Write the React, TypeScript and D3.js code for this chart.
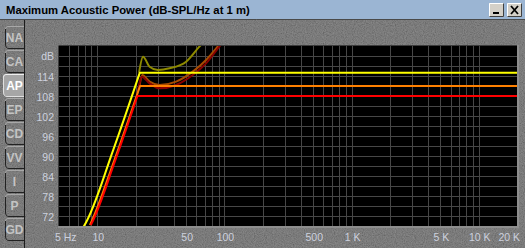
import React from 'react';
import * as d3 from 'd3';

// ---- Data ----
const xTickValues = [5, 10, 50, 100, 500, 1000, 5000, 10000, 20000];
const xTickLabels = ['5 Hz', '10', '50', '100', '500', '1 K', '5 K', '10 K', '20 K'];
const yTickValues = [72, 78, 84, 90, 96, 102, 108, 114];
const yUnitLabel = 'dB';
const tabLabels = ['NA', 'CA', 'AP', 'EP', 'CD', 'VV', 'I', 'P', 'GD'];
const activeTab = 'AP';
const titleText = 'Maximum Acoustic Power (dB-SPL/Hz at 1 m)';

// main limit lines: rising part, then flat level to 20 kHz
const yellowFreq = [7.7, 7.86, 13.4, 21.6];
const yellowDb = [68.5, 69, 92, 115];
const orangeFreq = [8.75, 8.88, 13.55, 21.7];
const orangeDb = [69.3, 69.8, 88.5, 111];
const redFreq = [8.9, 9.04, 13.8, 20.7];
const redDb = [69.3, 69.8, 88.5, 108];

// excursion-type curves
const oliveFreq = [21.3, 22.9, 25.8, 30.0, 37.0, 50.0, 63.5, 72.0];
const oliveDb = [115, 119.8, 116.8, 115.8, 116.3, 118.3, 122.8, 125.0];
const brownFreq = [21.5, 22.6, 25.8, 30.9, 41.7, 56.3, 71.7, 88.4, 96.0];
const brownDb = [111, 114.3, 112.3, 111.3, 112.3, 115.3, 118.8, 122.8, 124.5];
const darkRedFreq = [20.5, 21.5, 22.3, 25.8, 30.9, 41.7, 56.3, 71.7, 91.2, 99.0];
const darkRedDb = [108, 111.8, 113.8, 111.8, 110.3, 111.3, 114.3, 117.8, 122.8, 124.5];

const W = 525;
const H = 248;
const PL = 59, PR = 517, PT = 46, PB = 226;

export default function App() {
  const x = d3.scaleLog().domain([5, 20000]).range([PL, PR]);
  const y = d3.scaleLinear().domain([69, 123]).range([PB, PT]);

  const vGrid: number[] = [];
  [1, 10, 100, 1000, 10000].forEach((d) => {
    for (let m = 1; m <= 9; m++) {
      const f = m * d;
      if (f > 5 && f < 20000) vGrid.push(f);
    }
  });
  const hGrid = d3.range(72, 121, 3);

  const mk = (fs: number[], ds: number[]) => fs.map((f, i) => [f, ds[i]] as [number, number]);
  const smooth = d3
    .line<[number, number]>()
    .x((d) => x(d[0]))
    .y((d) => y(d[1]))
    .curve(d3.curveMonotoneX);
  const limitPath = (fs: number[], ds: number[]) =>
    (smooth(mk(fs, ds)) || '') + `L${x(20000)},${y(ds[ds.length - 1])}`;

  const font = "'Liberation Sans', Arial, sans-serif";
  const labelColor = '#cdd1de';

  return (
    <svg width={W} height={H} style={{ position: 'absolute', left: 0, top: 0, display: 'block' }}>
      <defs>
        <filter id="noise" x="0" y="0" width="100%" height="100%">
          <feTurbulence type="fractalNoise" baseFrequency="0.9" numOctaves="2" seed="4" />
          <feColorMatrix type="matrix" values="1 0 0 0 0  1 0 0 0 0  1 0 0 0 0  0 0 0 0 1" />
        </filter>
        <clipPath id="plotClip">
          <rect x={PL} y={PT} width={PR - PL} height={PB - PT} />
        </clipPath>
      </defs>

      {/* textured background */}
      <rect x={0} y={0} width={W} height={H} fill="#626262" />
      <rect x={0} y={0} width={W} height={H} filter="url(#noise)" opacity={0.28} />

      {/* title bar */}
      <rect x={0} y={0} width={W} height={19} fill="#9bb5d3" />
      <line x1={0} x2={W} y1={19.5} y2={19.5} stroke="#4a4a4a" />
      <text x={6} y={14} fontFamily={font} fontWeight="bold" fontSize={11.3} fill="#000">
        {titleText}
      </text>
      {[
        { bx: 489, label: '_' },
        { bx: 507, label: 'X' },
      ].map((b) => (
        <g key={b.label}>
          <rect x={b.bx} y={3} width={15} height={14} fill="#d4d0c8" />
          <path d={`M${b.bx + 0.5},${16.5} V${3.5} H${b.bx + 14.5}`} stroke="#fff" fill="none" />
          <path d={`M${b.bx + 0.5},${16.5} H${b.bx + 14.5} V${3.5}`} stroke="#404040" fill="none" />
          {b.label === '_' ? (
            <rect x={b.bx + 4} y={12} width={6} height={2} fill="#000" />
          ) : (
            <path
              d={`M${b.bx + 4},${6} L${b.bx + 11},${14} M${b.bx + 11},${6} L${b.bx + 4},${14}`}
              stroke="#000"
              strokeWidth={1.8}
            />
          )}
        </g>
      ))}

      {/* left tab column */}
      <line x1={24.5} x2={24.5} y1={20} y2={H} stroke="#1c1c1c" />
      {tabLabels.map((t, i) => {
        const top = 26 + i * 24;
        const bot = top + 22;
        const active = t === activeTab;
        const lx = active ? 3 : 5;
        return (
          <g key={t}>
            <path
              d={`M24,${top} L${lx + 3},${top} Q${lx},${top} ${lx},${top + 3} L${lx},${bot - 4} Q${lx},${bot} ${lx + 4},${bot} L24,${bot} Z`}
              fill={active ? '#a6a6a6' : 'rgba(0,0,0,0)'}
              stroke="none"
            />
            <path
              d={`M24,${top + 0.5} L${lx + 3},${top + 0.5} Q${lx + 0.5},${top + 0.5} ${lx + 0.5},${top + 3}`}
              stroke={active ? '#f0f0f0' : '#a8a8a8'}
              fill="none"
            />
            <path
              d={`M${lx + 0.5},${top + 3} L${lx + 0.5},${bot - 4} Q${lx + 0.5},${bot + 0.5} ${lx + 4},${bot + 0.5} L24,${bot + 0.5}`}
              stroke={active ? '#e0e0e0' : '#222'}
              fill="none"
            />
            <text
              x={14.5}
              y={top + 16}
              textAnchor="middle"
              fontFamily={font}
              fontWeight="bold"
              fontSize={12}
              fill={active ? '#ffffff' : '#c4c4c4'}
            >
              {t}
            </text>
          </g>
        );
      })}

      {/* plot */}
      <rect x={PL} y={PT} width={PR - PL} height={PB - PT} fill="#000" />
      <g stroke="#474747" strokeWidth={1}>
        {hGrid.map((v) => (
          <line key={'h' + v} x1={PL} x2={PR} y1={Math.round(y(v)) + 0.5} y2={Math.round(y(v)) + 0.5} />
        ))}
        {vGrid.map((f) => (
          <line key={'v' + f} x1={Math.round(x(f)) + 0.5} x2={Math.round(x(f)) + 0.5} y1={PT} y2={PB} />
        ))}
      </g>
      {/* frame */}
      <line x1={PL - 0.5} x2={PR} y1={PT - 0.5} y2={PT - 0.5} stroke="#3c3c3c" />
      <line x1={PL - 0.5} x2={PL - 0.5} y1={PT} y2={PB} stroke="#3c3c3c" />
      <rect x={PR} y={PT - 1} width={2} height={PB - PT + 3} fill="#8e8e8e" />
      <rect x={PL - 1} y={PB} width={PR - PL + 3} height={2} fill="#8e8e8e" />

      <g clipPath="url(#plotClip)" fill="none" strokeLinejoin="round">
        <path d={smooth(mk(oliveFreq, oliveDb)) || ''} stroke="#8e8a00" strokeWidth={2} />
        <path d={smooth(mk(brownFreq, brownDb)) || ''} stroke="#a84a00" strokeWidth={2} />
        <path d={smooth(mk(darkRedFreq, darkRedDb)) || ''} stroke="#8a0000" strokeWidth={2} />
        <path d={limitPath(orangeFreq, orangeDb)} stroke="#ff8000" strokeWidth={2} />
        <path d={limitPath(redFreq, redDb)} stroke="#ff0000" strokeWidth={2} />
        <path d={limitPath(yellowFreq, yellowDb)} stroke="#ffff00" strokeWidth={2} />
      </g>

      {/* y labels */}
      <text x={54} y={y(120) + 4} textAnchor="end" fontFamily={font} fontSize={10.5} fill={labelColor}>
        {yUnitLabel}
      </text>
      {yTickValues.map((v) => (
        <text key={v} x={54} y={y(v) + 4.5} textAnchor="end" fontFamily={font} fontSize={10.5} fill={labelColor}>
          {v}
        </text>
      ))}

      {/* x labels */}
      {xTickValues.map((f, i) => {
        const first = i === 0;
        const last = i === xTickValues.length - 1;
        return (
          <text
            key={f}
            x={first ? 55 : last ? 520 : x(f) + 1}
            y={240.5}
            textAnchor={first ? 'start' : last ? 'end' : 'middle'}
            fontFamily={font}
            fontSize={10.5}
            fill={labelColor}
          >
            {xTickLabels[i]}
          </text>
        );
      })}
    </svg>
  );
}
